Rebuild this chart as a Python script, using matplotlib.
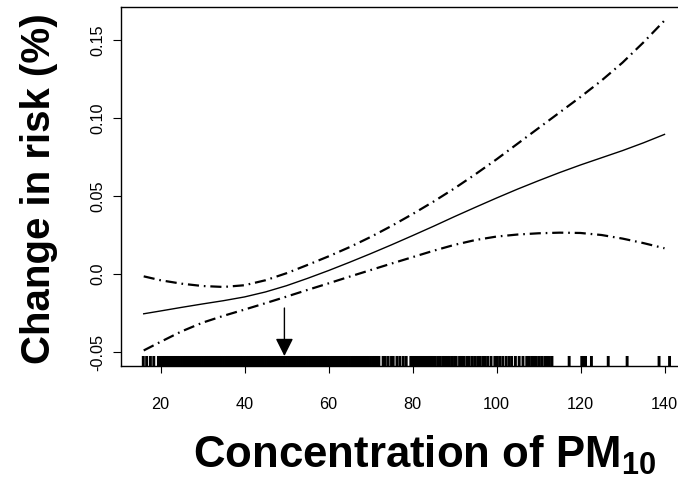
import matplotlib
matplotlib.use("Agg")
import matplotlib.pyplot as plt
import matplotlib.transforms as mtransforms

plt.rcParams["font.family"] = ["Liberation Sans", "DejaVu Sans"]
plt.rcParams["mathtext.fontset"] = "custom"
plt.rcParams["mathtext.rm"] = "Liberation Sans:bold"
plt.rcParams["mathtext.it"] = "Liberation Sans:bold"
plt.rcParams["mathtext.bf"] = "Liberation Sans:bold"
plt.rcParams["lines.scale_dashes"] = False

# Smoothed exposure-response curve and its confidence band
pm10 = [16, 20, 25, 30, 35, 40, 45, 50, 55, 60, 65, 70, 75, 80,
        85, 90, 95, 100, 105, 110, 115, 120, 125, 130, 135, 140]
fit = [-0.0255, -0.0237, -0.0214, -0.0192, -0.0171, -0.0147, -0.0115, -0.0075,
       -0.0028, 0.0022, 0.0075, 0.0130, 0.0187, 0.0246, 0.0306, 0.0368,
       0.0428, 0.0487, 0.0544, 0.0598, 0.0650, 0.0699, 0.0745, 0.0791,
       0.0841, 0.0895]
lower = [-0.0490, -0.0435, -0.0368, -0.0312, -0.0268, -0.0228, -0.0187, -0.0145,
         -0.0102, -0.0060, -0.0017, 0.0025, 0.0067, 0.0108, 0.0149, 0.0187,
         0.0218, 0.0240, 0.0253, 0.0261, 0.0265, 0.0263, 0.0250, 0.0227,
         0.0198, 0.0165]
upper = [-0.0015, -0.0040, -0.0062, -0.0077, -0.0083, -0.0072, -0.0040, 0.0005,
         0.0058, 0.0113, 0.0172, 0.0237, 0.0308, 0.0384, 0.0464, 0.0549,
         0.0640, 0.0735, 0.0835, 0.0935, 0.1035, 0.1135, 0.1240, 0.1355,
         0.1485, 0.1625]

# Observed daily PM10 concentrations (rug)
rug_pm10 = [
    15.9, 16.7, 17.6, 18.4,
    19.5, 20.0, 20.5, 21.0, 21.5, 22.0, 22.5, 23.0, 23.5, 24.0, 24.5, 25.0,
    25.5, 26.0, 26.5, 27.0, 27.5, 28.0, 28.5, 29.0, 29.5, 30.0, 30.5, 31.0,
    31.5, 32.0, 32.5, 33.0, 33.5, 34.0, 34.5, 35.0, 35.5, 36.0, 36.5, 37.0,
    37.5, 38.0, 38.5, 39.0, 39.5, 40.0, 40.5, 41.0, 41.5, 42.0, 42.5, 43.0,
    43.5, 44.0, 44.5, 45.0, 45.5, 46.0, 46.5, 47.0, 47.5, 48.0, 48.5, 49.0,
    49.5, 50.0, 50.5, 51.0, 51.5, 52.0, 52.5, 53.0, 53.5, 54.0, 54.5, 55.0,
    55.5, 56.0, 56.5, 57.0, 57.5, 58.0, 58.5, 59.0, 59.5, 60.0, 60.5, 61.0,
    61.5, 62.0, 62.5, 63.0, 63.5, 64.0, 64.5, 65.0, 65.5, 66.0, 66.5, 67.0,
    67.5, 68.0, 68.5, 69.0, 69.5, 70.0, 70.5, 71.0, 71.5, 72.0,
    73.0, 73.5, 74.2, 75.0, 75.4, 76.3, 77.0, 77.8, 78.5, 79.6, 80.1, 80.5,
    81.0, 81.6, 82.0, 82.4, 82.9, 83.5, 84.0, 84.3, 84.8, 85.4, 86.0, 86.6,
    87.2, 87.7, 88.3, 88.8, 89.4, 90.0, 90.4, 91.2, 91.7, 92.3, 93.0, 93.5,
    94.2, 94.8, 95.5, 96.0, 96.7, 97.3, 97.9, 98.7, 99.6, 100.2, 100.8, 101.5,
    102.3, 103.0, 103.6, 104.5, 105.4, 106.3, 107.2, 107.8, 108.4, 109.0,
    109.5, 110.2, 110.8, 111.5, 112.0, 112.6, 113.2,
    117.3, 120.3, 120.8, 121.2, 122.6, 126.6, 131.1, 138.7, 141.2,
]
mean_pm10 = 49.5

xticks = [20, 40, 60, 80, 100, 120, 140]
yticks = [-0.05, 0.0, 0.05, 0.10, 0.15]
ytick_labels = ["-0.05", "0.0", "0.05", "0.10", "0.15"]

fig = plt.figure(figsize=(6.78, 4.83), dpi=100)
ax = fig.add_axes([0.17788, 0.24224, 0.8332, 0.74265])
ax.set_xlim(10.5, 145)
ax.set_ylim(-0.05897, 0.17096)

ax.plot(pm10, fit, color="black", lw=1.0)
for band in (lower, upper):
    ax.plot(pm10, band, color="black", lw=1.6, dashes=(8, 3.5, 1.2, 3.5))

trans = mtransforms.blended_transform_factory(ax.transData, ax.transAxes)
ax.vlines(rug_pm10, 0, 0.0279, transform=trans, color="black", lw=2.1,
          snap=False, antialiased=True)

ax.annotate("", xy=(mean_pm10, -0.0526), xytext=(mean_pm10, -0.0218),
            arrowprops=dict(arrowstyle="-|>,head_length=0.6,head_width=0.3",
                            mutation_scale=18, color="black", lw=1.0,
                            shrinkA=0, shrinkB=0))

for s in ax.spines.values():
    s.set_linewidth(1.0)

ax.set_xticks(xticks)
ax.tick_params(axis="x", direction="out", length=5, width=0.8, pad=17,
               labelsize=11.7)
ax.set_yticks(yticks)
ax.set_yticklabels(ytick_labels)
ax.tick_params(axis="y", direction="out", length=6, width=0.8, pad=5,
               labelsize=11.7)
for lbl in ax.get_yticklabels():
    lbl.set_rotation(90)
    lbl.set_va("center")

fig.text(0.0570, 0.6097, "Change in risk (%)", rotation=90, fontsize=29,
         fontweight="bold", ha="center", va="center")
fig.text(0.2847, 0.031, r"Concentration of PM$_{10}$", fontsize=31.5,
         fontweight="bold", ha="left", va="baseline")

fig.savefig("out.png", dpi=100)
